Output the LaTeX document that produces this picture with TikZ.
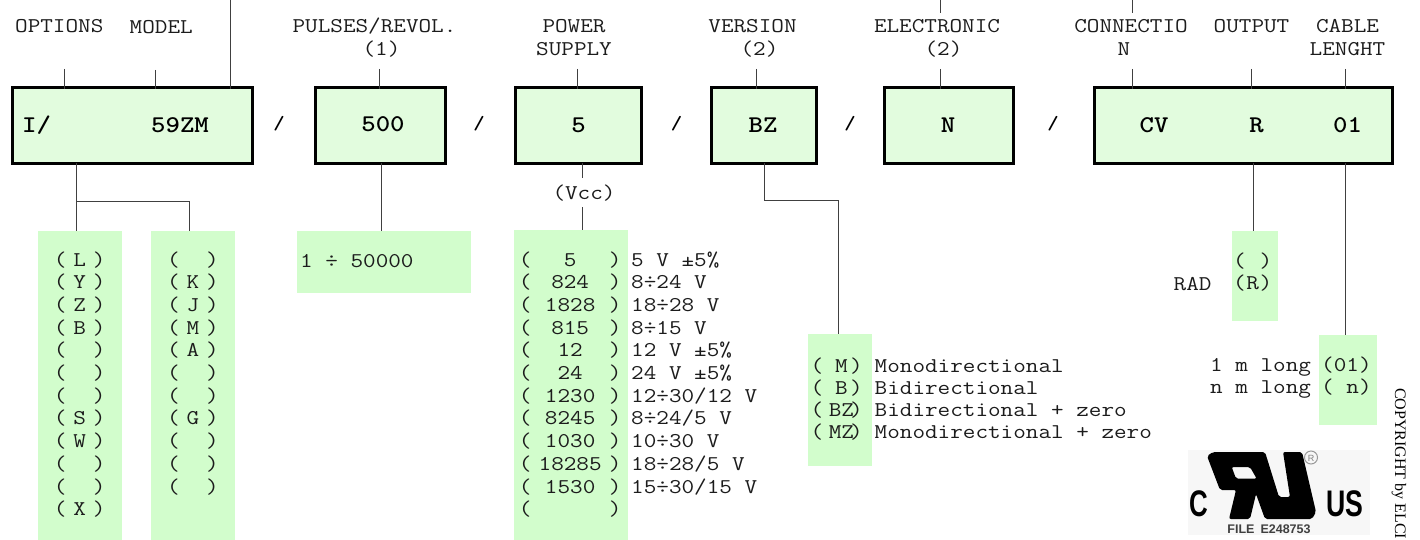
\documentclass[tikz,border=0pt]{standalone}
\usepackage{fontspec}
\usetikzlibrary{calc}
\setmainfont{Liberation Serif}
\newfontfamily\monoreg[FakeStretch=1.165]{Latin Modern Mono}
\newfontfamily\monobold[FakeStretch=1.143]{lmmonolt10-bold.otf}
\newfontfamily\logofont{Liberation Sans}
\definecolor{boxfill}{HTML}{E2FCDE}
\definecolor{panelfill}{HTML}{D2FDCC}
\definecolor{wirecol}{HTML}{404040}
\definecolor{txtcol}{HTML}{1C1C1C}
\definecolor{logobg}{HTML}{F7F7F7}
\newcommand{\rw}[2]{\hbox to #1{(\hfil #2\hfil)}}
\newcommand{\rwr}[1]{\hbox to 52pt{(\hfil\hbox to 0pt{\hss #1\hss}\hskip 8.6pt)}}
\newcommand{\stk}[2][22.7pt]{\vtop{\baselineskip=#1\lineskiplimit=-100pt\relax #2}}
\newcommand{\lnx}[1]{\hbox{#1}}
\tikzset{
  codebox/.style={draw=black,line width=3pt,fill=boxfill,anchor=north west,inner sep=0pt,outer sep=0pt},
  panel/.style={fill=panelfill,anchor=north west,inner sep=0pt,outer sep=0pt},
  wire/.style={draw=wirecol,line width=1pt},
  lab/.style={font=\monoreg\fontsize{21}{23}\selectfont,text=txtcol,inner sep=0pt,anchor=base},
  labl/.style={lab,anchor=base west},
  code/.style={font=\monobold\fontsize{24}{24}\selectfont,text=black,inner sep=0pt,anchor=base},
  sep/.style={font=\monobold\fontsize{19}{19}\selectfont,text=black,inner sep=0pt,anchor=base},
  logotext/.style={font=\logofont\bfseries,text=black,inner sep=0pt,anchor=base},
}
\begin{document}
\begin{tikzpicture}[x=1pt,y=-1pt]
\useasboundingbox (0,0) rectangle (1420,540);
% panels
\node[panel,minimum width=84pt,minimum height=309pt] (p1) at (38,231) {};
\node[panel,minimum width=84pt,minimum height=309pt] (p2) at (151,231) {};
\node[panel,minimum width=174pt,minimum height=62pt] (p3) at (297,231) {};
\node[panel,minimum width=114pt,minimum height=310pt] (p4) at (514,230) {};
\node[panel,minimum width=64pt,minimum height=132pt] (p5) at (808,334) {};
\node[panel,minimum width=46pt,minimum height=90pt] (p6) at (1232,231) {};
\node[panel,minimum width=58pt,minimum height=90pt] (p7) at (1319,335) {};
% code boxes
\node[codebox,minimum width=240.5pt,minimum height=76pt] (b1) at (12,87.5) {};
\node[codebox,minimum width=130pt,minimum height=76pt] (b2) at (315,87.5) {};
\node[codebox,minimum width=126pt,minimum height=76pt] (b3) at (515,87.5) {};
\node[codebox,minimum width=105.5pt,minimum height=76pt] (b4) at (711,87.5) {};
\node[codebox,minimum width=128.5pt,minimum height=76pt] (b5) at (884.5,87.5) {};
\node[codebox,minimum width=298.5pt,minimum height=76pt] (b6) at (1094,87.5) {};
% upper labels
\node[labl] (lopt) at (15,33) {OPTIONS};
\node[labl] (lmod) at (129.5,34) {MODEL};
\node[lab] (lpul) at (374.5,33) {PULSES/REVOL.};
\node[lab] (lpulb) at (381.5,56) {(1)};
\node[lab] (lpow) at (574,33) {POWER};
\node[lab] (lsup) at (574,56) {SUPPLY};
\node[lab] (lver) at (752.5,33) {VERSION};
\node[lab] (lverb) at (759.5,56) {(2)};
\node[lab] (lele) at (937,33) {ELECTRONIC};
\node[lab] (leleb) at (943.5,56) {(2)};
\node[lab] (lcon) at (1131,33) {CONNECTIO};
\node[lab] (lconb) at (1124,56) {N};
\node[lab] (lout) at (1251.5,33) {OUTPUT};
\node[lab] (lcab) at (1347.5,33) {CABLE};
\node[lab] (lcabb) at (1347.5,56) {LENGHT};
% code texts
\node[code,anchor=base west] (c1) at (22,133) {I/};
\node[code] (c2) at (180,133) {59ZM};
\node[code] (c3) at (383,132) {500};
\node[code] (c4) at (578.5,133) {5};
\node[code] (c5) at (763,133) {BZ};
\node[code] (c6) at (948,133) {N};
\node[code] (c7) at (1154,133) {CV};
\node[code] (c8) at (1256.5,133) {R};
\node[code] (c9) at (1347.5,133) {01};
\node[sep] (s1) at (279,130) {/};
\node[sep] (s2) at (479,130) {/};
\node[sep] (s3) at (676.5,130) {/};
\node[sep] (s4) at (850,130) {/};
\node[sep] (s5) at (1053,130) {/};
% connector anchors
\coordinate (t1) at (64.5,69);
\coordinate (t2) at (155,70);
\coordinate (t3) at (230,0);
\coordinate (t4) at (379,69);
\coordinate (t5) at (577.5,69);
\coordinate (t6) at (756.5,69);
\coordinate (t7) at (940.5,69);
\coordinate (t7a) at (940.5,0);
\coordinate (t7b) at (940.5,13);
\coordinate (t8) at (1132.5,69);
\coordinate (t8a) at (1132.5,0);
\coordinate (t8b) at (1132.5,13);
\coordinate (t9) at (1251.5,69);
\coordinate (t10) at (1345.5,69);
\coordinate (j1) at (76.5,201.5);
\coordinate (j2) at (189.5,201.5);
\coordinate (j3) at (764.5,200.5);
\coordinate (j4) at (838.5,200.5);
% top ticks
\foreach \c in {t1,t2,t3,t4,t5,t6,t7,t8,t9,t10}
  \draw[wire] (\c) -- ($(\c |- b1.north)+(0,1.5)$);
\draw[wire] (t7a) -- (t7b);
\draw[wire] (t8a) -- (t8b);
% lower connectors
\draw[wire] (j1 |- b1.south) -- (j1 |- p1.north);
\draw[wire] (j1) -- (j2) -- (j2 |- p2.north);
\draw[wire] (381.5,0 |- b2.south) -- (381.5,0 |- p3.north);
\node[lab] (vcc) at (584,199) {(Vcc)};
\coordinate (v1) at (582.5,178);
\coordinate (v2) at (582.5,207);
\draw[wire] (v1 |- b3.south) -- (v1);
\draw[wire] (v2) -- (v2 |- p4.north);
\draw[wire] (j3 |- b4.south) -- (j3) -- (j4) -- (j4 |- p5.north);
\draw[wire] (1253.5,0 |- b6.south) -- (1253.5,0 |- p6.north);
\draw[wire] (1345.5,0 |- b6.south) -- (1345.5,0 |- p7.north);
% panel 1
\node[labl] (r1) at (53.7,266) {\stk{\lnx{\rw{51.6pt}{L}}\lnx{\rw{51.6pt}{Y}}\lnx{\rw{51.6pt}{Z}}\lnx{\rw{51.6pt}{B}}\lnx{\rw{51.6pt}{}}\lnx{\rw{51.6pt}{}}\lnx{\rw{51.6pt}{}}\lnx{\rw{51.6pt}{S}}\lnx{\rw{51.6pt}{W}}\lnx{\rw{51.6pt}{}}\lnx{\rw{51.6pt}{}}\lnx{\rw{51.6pt}{X}}}};
% panel 2
\node[labl] (r2) at (167,266) {\stk{\lnx{\rw{51.6pt}{}}\lnx{\rw{51.6pt}{K}}\lnx{\rw{51.6pt}{J}}\lnx{\rw{51.6pt}{M}}\lnx{\rw{51.6pt}{A}}\lnx{\rw{51.6pt}{}}\lnx{\rw{51.6pt}{}}\lnx{\rw{51.6pt}{G}}\lnx{\rw{51.6pt}{}}\lnx{\rw{51.6pt}{}}\lnx{\rw{51.6pt}{}}}};
% panel 3
\node[labl] (r3) at (300,267) {1 ÷ 50000};
% panel 4
\node[labl] (r4) at (518.7,266) {\stk{\lnx{\rw{102.6pt}{5}}\lnx{\rw{102.6pt}{824}}\lnx{\rw{102.6pt}{1828}}\lnx{\rw{102.6pt}{815}}\lnx{\rw{102.6pt}{12}}\lnx{\rw{102.6pt}{24}}\lnx{\rw{102.6pt}{1230}}\lnx{\rw{102.6pt}{8245}}\lnx{\rw{102.6pt}{1030}}\lnx{\rw{102.6pt}{18285}}\lnx{\rw{102.6pt}{1530}}\lnx{\rw{102.6pt}{}}}};
\node[labl] (d4) at (631,266) {\stk{\lnx{5 V ±5\%}\lnx{8÷24 V}\lnx{18÷28 V}\lnx{8÷15 V}\lnx{12 V ±5\%}\lnx{24 V ±5\%}\lnx{12÷30/12 V}\lnx{8÷24/5 V}\lnx{10÷30 V}\lnx{18÷28/5 V}\lnx{15÷30/15 V}}};
% panel 5
\node[labl] (r5) at (810.5,372) {\stk[22.2pt]{\lnx{\rwr{M}}\lnx{\rwr{B}}\lnx{\rwr{BZ}}\lnx{\rwr{MZ}}}};
\node[labl] (d5) at (874.5,372) {\stk[22.2pt]{\lnx{Monodirectional}\lnx{Bidirectional}\lnx{Bidirectional + zero}\lnx{Monodirectional + zero}}};
% panel 6
\node[labl] (r6) at (1233,267) {\stk{\lnx{\rw{39pt}{}}\lnx{\rw{39pt}{R}}}};
\node[labl] (d6) at (1173.5,290) {RAD};
% panel 7
\node[labl] (r7) at (1321,371.5) {\stk[21.5pt]{\lnx{(01)}\lnx{( n)}}};
\node[labl] (d7) at (1210,371.5) {\stk[21.5pt]{\lnx{1 m long}\lnx{n m long}}};
% logo
\fill[logobg] (1188,450) rectangle (1370,535);
\fill[black,even odd rule,rounded corners=2pt]
  (1207,456) -- (1213,452) -- (1265,452) -- (1279,497) -- (1290,497) -- (1283,452) -- (1302,452)
  -- (1316,512) -- (1312,519) -- (1265,519) -- (1256,494) -- (1250,519) -- (1229,519)
  -- (1236,490) -- (1220,490) -- cycle
  (1231.7,467) -- (1250,467) -- (1256.7,478.7) -- (1236,478.7) -- cycle;
\draw[gray!80,line width=1pt] (1311,457.5) circle (6.5);
\node[logotext,font=\logofont\fontsize{9}{9}\selectfont,text=gray] (reg) at (1311,461) {R};
\node[logotext,font=\logofont\bfseries\fontsize{37}{37}\selectfont,xscale=.7,transform shape] (lc) at (1199,516) {C};
\node[logotext,font=\logofont\bfseries\fontsize{37}{37}\selectfont,xscale=.72,transform shape] (lus) at (1345,516) {US};
\node[logotext,font=\logofont\bfseries\fontsize{12.5}{12.5}\selectfont,text=black!75] (lf) at (1269,533.5) {FILE\hspace{6pt}E248753};
% copyright
\node[inner sep=0pt,rotate=-90,anchor=base west,font=\fontsize{16}{16}\selectfont,text=black] (cr) at (1395,388) {COPYRIGHT by ELCI};
\end{tikzpicture}
\end{document}
